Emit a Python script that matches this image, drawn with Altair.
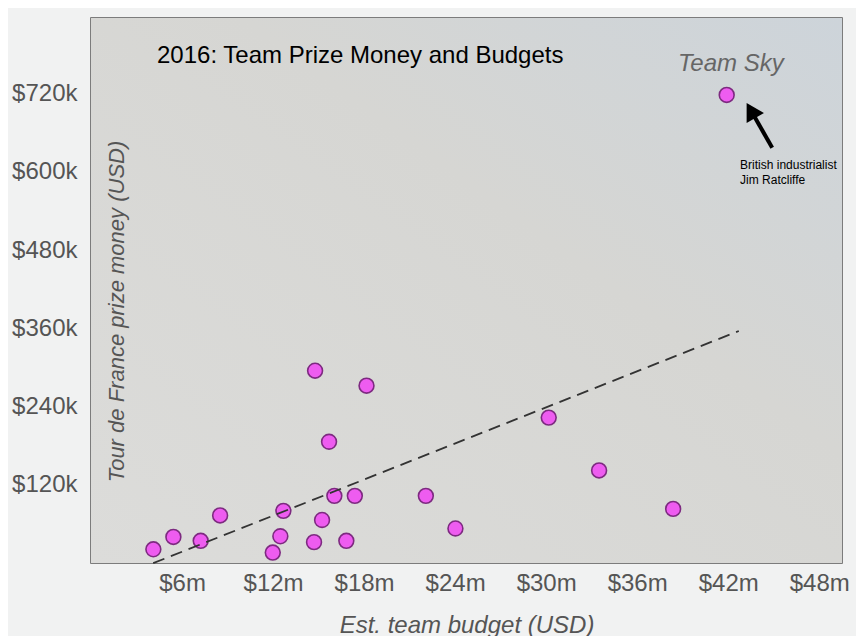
import altair as alt
import pandas as pd

# Team budgets (USD millions) and Tour de France prize money (USD thousands)
budget_m = [4.11, 5.43, 7.23, 8.51, 11.98, 12.48, 12.68, 14.70, 14.77, 15.23, 15.69,
            16.04, 16.83, 17.39, 18.16, 22.07, 24.02, 30.17, 33.49, 38.37, 41.90]
prize_k = [21, 40, 34, 73, 16, 41, 80, 32, 295, 66, 186,
           103, 34, 103, 272, 103, 53, 223, 142, 83, 718]

x_ticks = [6, 12, 18, 24, 30, 36, 42, 48]
y_ticks = [120, 240, 360, 480, 600, 720]

title_text = "2016: Team Prize Money and Budgets"
x_title = "Est. team budget (USD)"
y_title = "Tour de France prize money (USD)"

# annotations (data coordinates)
sky_label = ["Team Sky"]
sky_label_x = [42.17]
sky_label_y = [754]
note_lines = ["British industrialist", "Jim Ratcliffe"]
note_x = [42.78, 42.78]
note_y = [610, 588]
arrow_tail = [44.9, 637]
arrow_head = [43.5, 694]

df = pd.DataFrame({"budget": budget_m, "prize": prize_k})
W, H = 751, 545

xscale = alt.Scale(domain=[0, 49.5], nice=False, zero=False)
yscale = alt.Scale(domain=[0, 836], nice=False, zero=False)

xaxis = alt.Axis(values=x_ticks, labelExpr="'$' + datum.value + 'm'", grid=False,
                 ticks=False, tickSize=0, domain=False, labelFontSize=24,
                 labelColor="#555555", labelPadding=8, labelFont="Liberation Sans",
                 title=x_title, titleFont="Liberation Sans", titleFontSize=24,
                 titleFontStyle="italic", titleFontWeight="normal", titleColor="#555555",
                 titleBaseline="alphabetic", titleY=69, zindex=1)
yaxis = alt.Axis(values=y_ticks, labelExpr="'$' + datum.value + 'k'", grid=False,
                 ticks=False, tickSize=0, domain=False, labelFontSize=24,
                 labelColor="#555555", labelPadding=14, labelFont="Liberation Sans",
                 title=y_title, titleFont="Liberation Sans", titleFontSize=22,
                 titleFontStyle="italic", titleFontWeight="normal", titleColor="#555555",
                 titleBaseline="alphabetic", titleX=32, titleY=293, titleAngle=270,
                 titleAlign="center", zindex=1)

bg = alt.Chart(pd.DataFrame({"a": [0]})).mark_rect(
    color=alt.Gradient(gradient="linear", x1=0, y1=1, x2=1, y2=0,
                       stops=[alt.GradientStop(color="#dcdcda", offset=0),
                              alt.GradientStop(color="#d6d6d3", offset=0.6),
                              alt.GradientStop(color="#cdd4da", offset=1)])
).encode(x=alt.value(0), x2=alt.value(W), y=alt.value(0), y2=alt.value(H))

points = alt.Chart(df).mark_point(
    filled=True, shape="circle", size=220, fill="#ee5cf0", stroke="#7d2a80",
    strokeWidth=1.6, opacity=1
).encode(
    x=alt.X("budget:Q", scale=xscale, axis=xaxis),
    y=alt.Y("prize:Q", scale=yscale, axis=yaxis),
)

trend = alt.Chart(df).transform_regression(
    "budget", "prize", extent=[4.1, 42.7]
).mark_line(color="#333333", strokeDash=[12, 7], strokeWidth=1.8).encode(
    x=alt.X("budget:Q", scale=xscale),
    y=alt.Y("prize:Q", scale=yscale),
)

title_mark = alt.Chart(pd.DataFrame({"t": [title_text]})).mark_text(
    align="left", baseline="alphabetic", fontSize=24, font="Liberation Sans",
    color="#000000"
).encode(x=alt.value(66), y=alt.value(45), text="t:N")

sky = alt.Chart(pd.DataFrame({"t": sky_label, "x": sky_label_x, "y": sky_label_y})).mark_text(
    align="center", baseline="alphabetic", fontSize=24, font="Liberation Sans",
    fontStyle="italic", color="#666666"
).encode(x=alt.X("x:Q", scale=xscale), y=alt.Y("y:Q", scale=yscale), text="t:N")

note = alt.Chart(pd.DataFrame({"t": note_lines, "x": note_x, "y": note_y})).mark_text(
    align="left", baseline="middle", fontSize=12, font="Liberation Sans", color="#000000"
).encode(x=alt.X("x:Q", scale=xscale), y=alt.Y("y:Q", scale=yscale), text="t:N")

arrow_df = pd.DataFrame({"x": [arrow_tail[0]], "y": [arrow_tail[1]],
                         "x2": [arrow_head[0]], "y2": [arrow_head[1]]})
shaft = alt.Chart(arrow_df).mark_rule(color="#000000", strokeWidth=4).encode(
    x=alt.X("x:Q", scale=xscale), y=alt.Y("y:Q", scale=yscale), x2="x2:Q", y2="y2:Q")
head = alt.Chart(arrow_df).mark_point(
    shape="triangle-up", filled=True, size=400, color="#000000", opacity=1, angle=330
).encode(x=alt.X("x2:Q", scale=xscale), y=alt.Y("y2:Q", scale=yscale))

chart = alt.layer(bg, points, trend, title_mark, sky, shaft, head, note).properties(
    width=W, height=H,
    autosize=alt.AutoSizeParams(type="none"),
    padding={"left": 83, "top": 10, "right": 14, "bottom": 73},
    background="#f1f2f2",
).configure_view(stroke="#555555", strokeWidth=1.5, fill="#d8d8d5")

chart.save("out.html", embed_options={"renderer": "svg", "actions": False})
